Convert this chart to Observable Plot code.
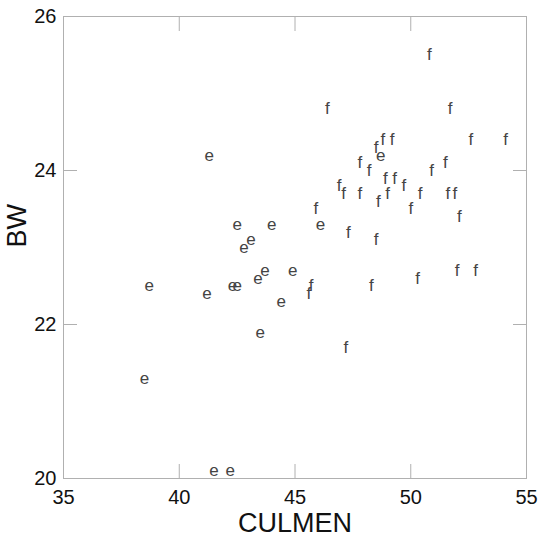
<!DOCTYPE html>
<html>
<head>
<meta charset="utf-8">
<script src="https://cdn.jsdelivr.net/npm/d3@7"></script>
<script src="https://cdn.jsdelivr.net/npm/@observablehq/plot@0.6"></script>
<style>
  html, body { margin: 0; padding: 0; background: #fff; overflow: hidden; }
  svg { display: block; }
</style>
</head>
<body>
<div id="chart"></div>
<script>
// Group "e"
const eCulmen = [41.3, 42.5, 44.0, 46.1, 42.8, 43.1, 44.9, 43.7, 43.4, 42.3, 42.5, 41.2, 44.4, 43.5, 38.7, 38.5, 41.5, 42.2, 48.7];
const eBW     = [24.2, 23.3, 23.3, 23.3, 23.0, 23.1, 22.7, 22.7, 22.6, 22.5, 22.5, 22.4, 22.3, 21.9, 22.5, 21.3, 20.1, 20.1, 24.2];
// Group "f"
const fCulmen = [50.8, 46.4, 51.7, 52.6, 54.1, 48.8, 49.2, 48.5, 47.8, 51.5, 48.2, 50.9, 48.9, 49.3, 49.7, 46.9, 47.1, 47.8, 48.6, 49.0, 50.4, 51.6, 51.9, 50.0, 45.9, 52.1, 47.3, 48.5, 52.0, 52.8, 45.7, 45.6, 48.3, 50.3, 47.2];
const fBW     = [25.5, 24.8, 24.8, 24.4, 24.4, 24.4, 24.4, 24.3, 24.1, 24.1, 24.0, 24.0, 23.9, 23.9, 23.8, 23.8, 23.7, 23.7, 23.6, 23.7, 23.7, 23.7, 23.7, 23.5, 23.5, 23.4, 23.2, 23.1, 22.7, 22.7, 22.5, 22.4, 22.5, 22.6, 21.7];

const xLabels = [35, 40, 45, 50, 55];
const yLabels = [20, 22, 24, 26];
const xInnerTicks = [40, 45, 50];
const yInnerTicks = [22, 24];
const xTitle = "CULMEN";
const yTitle = "BW";

const points = [
  ...eCulmen.map((c, i) => ({culmen: c, bw: eBW[i], g: "e"})),
  ...fCulmen.map((c, i) => ({culmen: c, bw: fBW[i], g: "f"}))
];

const gray = "#b0b0b0";
const font = "'Liberation Sans', Arial, Helvetica, sans-serif";
const intFmt = d3.format("d");

const chart = Plot.plot({
  width: 538,
  height: 539,
  marginLeft: 63,
  marginRight: 12,
  marginTop: 16,
  marginBottom: 61,
  style: {fontFamily: font, background: "#fff"},
  x: {domain: [35, 55]},
  y: {domain: [20, 26]},
  marks: [
    Plot.frame({stroke: gray, strokeWidth: 1}),
    // inward ticks on all four sides
    Plot.axisX(xInnerTicks, {anchor: "bottom", tickSize: -14, stroke: gray, tickFormat: () => "", label: null}),
    Plot.axisX(xInnerTicks, {anchor: "top", tickSize: -14, stroke: gray, tickFormat: () => "", label: null}),
    Plot.axisY(yInnerTicks, {anchor: "left", tickSize: -14, stroke: gray, tickFormat: () => "", label: null}),
    Plot.axisY(yInnerTicks, {anchor: "right", tickSize: -14, stroke: gray, tickFormat: () => "", label: null}),
    // tick labels
    Plot.axisX(xLabels, {anchor: "bottom", tickSize: 0, tickPadding: 11, fontSize: 20, fill: "#111", tickFormat: intFmt, label: null}),
    Plot.axisY(yLabels, {anchor: "left", tickSize: 0, tickPadding: 7, fontSize: 20, fill: "#111", tickFormat: intFmt, label: null}),
    // axis titles
    Plot.text([xTitle], {text: d => d, frameAnchor: "bottom", dy: 53, fontSize: 27, fill: "#111"}),
    Plot.text([yTitle], {text: d => d, frameAnchor: "left", rotate: -90, dx: -46, fontSize: 27, fill: "#111"}),
    // data labels
    Plot.text(points, {x: "culmen", y: "bw", text: "g", fontSize: 17, fill: "#444"})
  ]
});
document.getElementById("chart").appendChild(chart);
</script>
</body>
</html>
